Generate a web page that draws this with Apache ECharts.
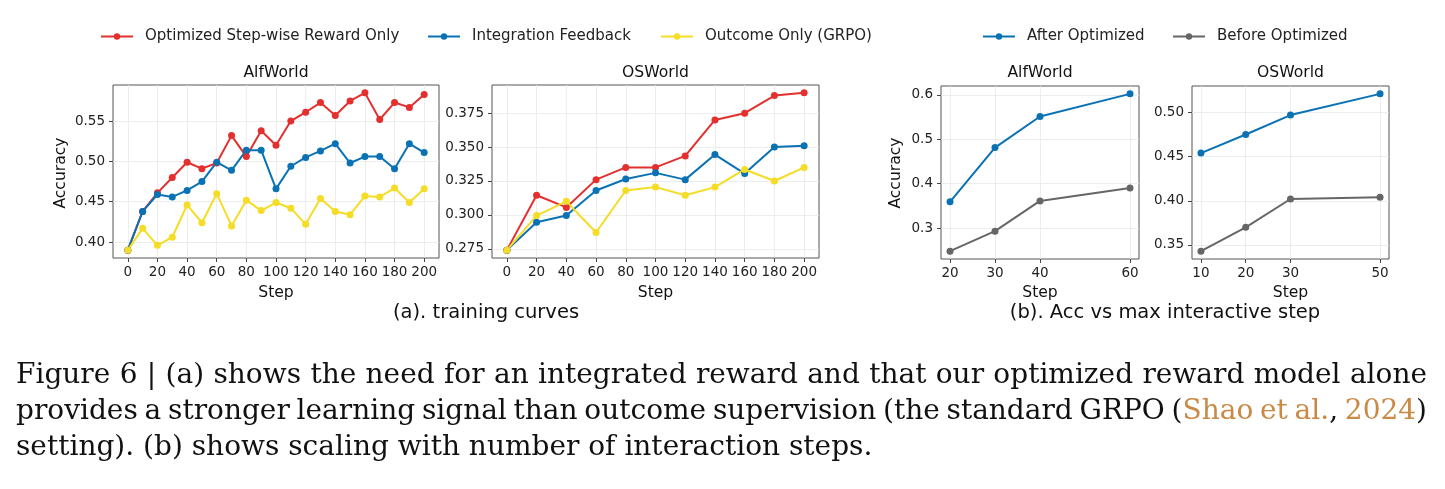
<!DOCTYPE html>
<html><head><meta charset="utf-8">
<script src="https://cdn.jsdelivr.net/npm/echarts@6/dist/echarts.min.js"></script>
<style>html,body{margin:0;padding:0;background:#fff}#c{width:1445px;height:489px}</style>
</head><body><div id="c"></div><script>
// ---------------- data ----------------
const stepsAlfA = [0,10,20,30,40,50,60,70,80,90,100,110,120,130,140,150,160,170,180,190,200];
const alfStepwise = [0.390,0.438,0.461,0.480,0.499,0.491,0.498,0.532,0.506,0.538,0.520,0.550,0.561,0.573,0.557,0.575,0.585,0.552,0.573,0.567,0.583];
const alfIntegration = [0.390,0.438,0.459,0.456,0.464,0.475,0.499,0.489,0.514,0.514,0.466,0.494,0.505,0.513,0.522,0.498,0.506,0.506,0.491,0.522,0.511];
const alfOutcome = [0.390,0.417,0.396,0.406,0.446,0.424,0.460,0.420,0.452,0.439,0.449,0.442,0.422,0.454,0.438,0.434,0.457,0.456,0.467,0.449,0.466];

const stepsOSA = [0,20,40,60,80,100,120,140,160,180,200];
const osStepwise = [0.274,0.3145,0.3055,0.326,0.335,0.335,0.3435,0.370,0.375,0.388,0.390];
const osIntegration = [0.274,0.2945,0.2995,0.318,0.3265,0.331,0.326,0.3445,0.3305,0.350,0.351];
const osOutcome = [0.274,0.2995,0.310,0.287,0.318,0.3205,0.3145,0.3205,0.3335,0.325,0.335];

const stepsAlfB = [20,30,40,60];
const alfAfter = [0.359,0.481,0.551,0.602];
const alfBefore = [0.248,0.293,0.361,0.390];

const stepsOSB = [10,20,30,50];
const osAfter = [0.454,0.475,0.497,0.521];
const osBefore = [0.343,0.370,0.402,0.404];

const xTicksA = [0,20,40,60,80,100,120,140,160,180,200];
const yTicksAlfA = [0.40,0.45,0.50,0.55];
const yTicksOSA = [0.275,0.300,0.325,0.350,0.375];
const xTicksAlfB = [20,30,40,60];
const yTicksAlfB = [0.3,0.4,0.5,0.6];
const xTicksOSB = [10,20,30,50];
const yTicksOSB = [0.35,0.40,0.45,0.50];

const namesA = ['Optimized Step-wise Reward Only','Integration Feedback','Outcome Only (GRPO)'];
const namesB = ['After Optimized','Before Optimized'];
const panelTitles = ['AlfWorld','OSWorld','AlfWorld','OSWorld'];
const subCaptions = ['(a). training curves','(b). Acc vs max interactive step'];
const captionLines = [
  {justify:true,  text:'Figure 6 | (a) shows the need for an integrated reward and that our optimized reward model alone'},
  {justify:true,  text:'provides a stronger learning signal than outcome supervision (the standard GRPO ({Shao} {et} {al.}, {2024})'},
  {justify:false, text:'setting). (b) shows scaling with number of interaction steps.'}
];

// ---------------- style ----------------
const RED='#e3302f', BLUE='#0a72b4', YEL='#f5dc26', GRAY='#666666', CITE='#c98a45';
const SANS='DejaVu Sans', SERIF='DejaVu Serif';
const grids = [
  {left:113, top:85, width:326, height:173},
  {left:492, top:85, width:327, height:173},
  {left:941, top:86, width:198, height:173},
  {left:1192, top:86, width:197, height:173}
];
function pad(arrs){
  const all=[].concat(...arrs); const lo=Math.min(...all), hi=Math.max(...all), m=(hi-lo)*0.05;
  return [lo-m, hi+m];
}
function xAxis(gi, xs, ticks){
  const r = pad([xs]);
  return {type:'value', gridIndex:gi, min:r[0], max:r[1],
    axisLine:{show:false,onZero:false},
    axisTick:{show:true,length:4,customValues:ticks,lineStyle:{color:'#444',width:1}},
    axisLabel:{customValues:ticks,margin:7,fontSize:13.5,fontFamily:SANS,color:'#222',formatter:v=>String(v)},
    splitLine:{show:true,lineStyle:{color:'#e8e8e8',width:0.8}}};
}
function yAxis(gi, ys, ticks, dec){
  const r = pad(ys);
  return {type:'value', gridIndex:gi, min:r[0], max:r[1],
    axisLine:{show:false,onZero:false},
    axisTick:{show:true,length:4,customValues:ticks,lineStyle:{color:'#444',width:1}},
    axisLabel:{customValues:ticks,margin:8,fontSize:13.5,fontFamily:SANS,color:'#222',formatter:v=>v.toFixed(dec)},
    splitLine:{show:true,lineStyle:{color:'#e8e8e8',width:0.8}}};
}
function line(name, gi, xs, ys, color){
  return {type:'line', name, xAxisIndex:gi, yAxisIndex:gi, data: xs.map((x,i)=>[x,ys[i]]),
    symbol:'circle', symbolSize:7, showSymbol:true, itemStyle:{color}, lineStyle:{color,width:2}, z:2};
}

// ---------------- caption layout ----------------
const cv=document.createElement('canvas').getContext('2d');
const CAP_SIZE=28, CAP_FONT=CAP_SIZE+'px "'+SERIF+'"';
function meas(s){cv.font=CAP_FONT;return cv.measureText(s).width;}
function parseWord(w){
  const segs=[]; const re=/\{([^}]*)\}|([^{]+)/g; let m;
  while((m=re.exec(w))){ if(m[1]!==undefined) segs.push([m[1],CITE]); else segs.push([m[2],'#111']); }
  return segs;
}
const capX0=16, capX1=1427, capY=[376,412,448];
const captionEls=[];
captionLines.forEach((ln,li)=>{
  const words=ln.text.split(' ').map(parseWord);
  const widths=words.map(w=>meas(w.map(s=>s[0]).join('')));
  const total=widths.reduce((a,b)=>a+b,0);
  const gap= ln.justify ? (capX1-capX0-total)/(words.length-1) : meas(' ');
  let x=capX0;
  words.forEach((w,wi)=>{
    let sx=x;
    w.forEach(seg=>{
      captionEls.push({type:'text',x:sx,y:capY[li],silent:true,style:{text:seg[0],fill:seg[1],fontSize:CAP_SIZE,fontFamily:SERIF,align:'left',verticalAlign:'middle'}});
      sx+=meas(seg[0]);
    });
    x+=widths[wi]+gap;
  });
});

function txt(s,x,y,size,rot){
  const e={type:'text',x,y,silent:true,style:{text:s,fill:'#111',fontSize:size,fontFamily:SANS,align:'center',verticalAlign:'middle'}};
  if(rot) e.rotation=Math.PI/2;
  return e;
}
const textEls=[];
grids.forEach((g,i)=>{
  const cx=g.left+g.width/2;
  textEls.push(txt(panelTitles[i],cx,73,15.6));
  textEls.push(txt('Step',cx,293,15.6));
});
textEls.push(txt('Accuracy',61,173,15.6,true));
textEls.push(txt('Accuracy',896,173,15.6,true));
textEls.push(txt(subCaptions[0],486,313,19.5));
textEls.push(txt(subCaptions[1],1165,313,19.5));

function leg(name,left){
  return {data:[name],left,top:29,padding:0,itemWidth:32,itemHeight:8,selectedMode:false,
    textStyle:{fontSize:15,fontFamily:SANS,color:'#222',padding:[0,0,0,7]}};
}

const option={
  animation:false,
  backgroundColor:'#fff',
  grid: grids.map(g=>Object.assign({show:true,borderColor:'#555',borderWidth:1,backgroundColor:'transparent'},g)),
  xAxis:[xAxis(0,stepsAlfA,xTicksA),xAxis(1,stepsOSA,xTicksA),xAxis(2,stepsAlfB,xTicksAlfB),xAxis(3,stepsOSB,xTicksOSB)],
  yAxis:[yAxis(0,[alfStepwise,alfIntegration,alfOutcome],yTicksAlfA,2),
         yAxis(1,[osStepwise,osIntegration,osOutcome],yTicksOSA,3),
         yAxis(2,[alfAfter,alfBefore],yTicksAlfB,1),
         yAxis(3,[osAfter,osBefore],yTicksOSB,2)],
  legend:[leg(namesA[0],100),leg(namesA[1],427),leg(namesA[2],660),leg(namesB[0],982),leg(namesB[1],1172)],
  series:[
    line(namesA[0],0,stepsAlfA,alfStepwise,RED),
    line(namesA[1],0,stepsAlfA,alfIntegration,BLUE),
    line(namesA[2],0,stepsAlfA,alfOutcome,YEL),
    line(namesA[0],1,stepsOSA,osStepwise,RED),
    line(namesA[1],1,stepsOSA,osIntegration,BLUE),
    line(namesA[2],1,stepsOSA,osOutcome,YEL),
    line(namesB[0],2,stepsAlfB,alfAfter,BLUE),
    line(namesB[1],2,stepsAlfB,alfBefore,GRAY),
    line(namesB[0],3,stepsOSB,osAfter,BLUE),
    line(namesB[1],3,stepsOSB,osBefore,GRAY)
  ],
  graphic:{elements:textEls.concat(captionEls)}
};
const chart=echarts.init(document.getElementById('c'),null,{renderer:'canvas'});
chart.setOption(option);
</script></body></html>
